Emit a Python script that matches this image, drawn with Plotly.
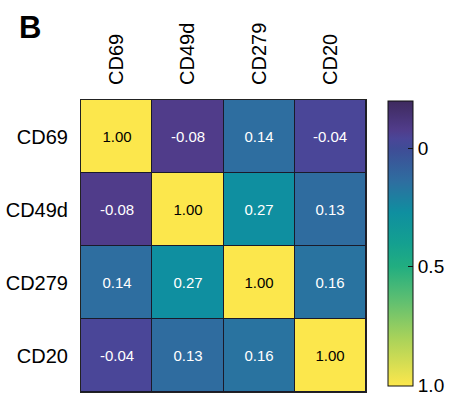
import plotly.graph_objects as go

markers = ["CD69", "CD49d", "CD279", "CD20"]
row_cd69 = [1.00, -0.08, 0.14, -0.04]
row_cd49d = [-0.08, 1.00, 0.27, 0.13]
row_cd279 = [0.14, 0.27, 1.00, 0.16]
row_cd20 = [-0.04, 0.13, 0.16, 1.00]
corr = [row_cd69, row_cd49d, row_cd279, row_cd20]
cbar_ticks = [0, 0.5, 1.0]
cbar_ticktext = ["0", "0.5", "1.0"]
vmin, vmax = -0.2, 1.0

# colour stops (value, colour)
cmap_values = [1.0, 0.8, 0.65, 0.5, 0.4, 0.27, 0.14, 0.0, -0.04, -0.08, -0.2]
cmap_colors = ["#FDE74C", "#A8D25A", "#62C070", "#22AE80", "#14A090", "#0F8FA0",
               "#2E6EA0", "#3F4C96", "#4A4698", "#503C8A", "#3E2A5E"]

FONT = "Liberation Sans, Arial, sans-serif"

# colour bar runs top (low) to bottom (high): plot negated values
zneg = [[-v for v in row] for row in corr]
text = [[(f"<span style='color:#000'>{v:.2f}</span>" if v > 0.7 else f"{v:.2f}")
         for v in row] for row in corr]
zmin, zmax = -vmax - 0.003, -vmin
colorscale = [[(-v - zmin) / (zmax - zmin), c] for v, c in zip(cmap_values, cmap_colors)]
colorscale[0][0] = 0.0
colorscale[-1][0] = 1.0

PLOT_H = 399 - 100 - 6

fig = go.Figure(go.Heatmap(
    z=zneg, x=markers, y=markers,
    text=text, texttemplate="%{text}",
    textfont=dict(family=FONT, size=15, color="#ffffff"),
    colorscale=colorscale, zmin=zmin, zmax=zmax,
    xgap=1, ygap=1,
    colorbar=dict(
        x=1.078, xanchor="left", xref="paper",
        y=1 - 1 / PLOT_H, yanchor="top", len=(PLOT_H - 7) / PLOT_H, lenmode="fraction",
        thickness=25, thicknessmode="pixels", ypad=0, xpad=0,
        outlinewidth=1, outlinecolor="#111",
        tickvals=[-t for t in cbar_ticks], ticktext=cbar_ticktext,
        ticks="inside", ticklen=5, tickcolor="#111",
        ticklabeloverflow="allow",
        tickfont=dict(family=FONT, size=19, color="#000"),
    ),
))

fig.update_layout(
    width=456, height=399,
    margin=dict(l=73, r=88, t=100, b=6),
    paper_bgcolor="white", plot_bgcolor="#1a1a2a",
    font=dict(family=FONT, color="#000"),
)
fig.layout.annotations = [dict(text="<b>B</b>", x=-0.225, y=1.315, xref="paper", yref="paper",
                               xanchor="left", yanchor="top", showarrow=False,
                               font=dict(size=31, family=FONT, color="#000"))]
fig.update_xaxes(side="top", tickangle=-90, showgrid=False, zeroline=False,
                 tickfont=dict(family=FONT, size=20, color="#000"),
                 ticks="", ticklabelstandoff=10,
                 showline=True, mirror=True, linecolor="#222", linewidth=1)
fig.update_yaxes(autorange="reversed", showgrid=False, zeroline=False,
                 tickfont=dict(family=FONT, size=20, color="#000"),
                 ticks="", ticklabelstandoff=8,
                 showline=True, mirror=True, linecolor="#222", linewidth=1)

fig.write_html("out.html")
